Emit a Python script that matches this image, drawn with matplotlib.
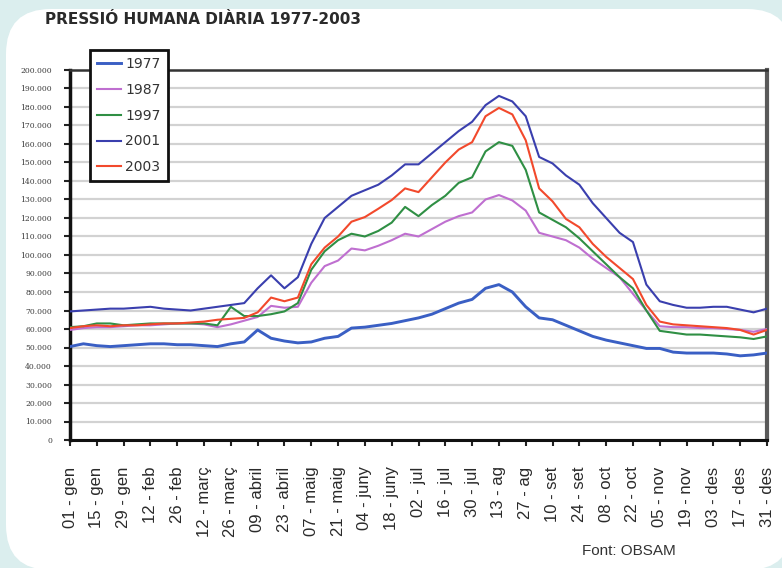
import numpy as np
import matplotlib
matplotlib.use("Agg")
import matplotlib.pyplot as plt
from matplotlib.patches import FancyBboxPatch
from matplotlib.ticker import FuncFormatter, MultipleLocator

# ---------------- data ----------------
# sample day (day of year, 0 = 01 gen) - weekly samples
days = list(range(0, 365, 7))

tick_labels = ["01 - gen", "15 - gen", "29 - gen", "12 - feb", "26 - feb",
               "12 - març", "26 - març", "09 - abril", "23 - abril", "07 - maig",
               "21 - maig", "04 - juny", "18 - juny", "02 - jul", "16 - jul",
               "30 - jul", "13 - ag", "27 - ag", "10 - set", "24 - set",
               "08 - oct", "22 - oct", "05 - nov", "19 - nov", "03 - des",
               "17 - des", "31 - des"]
tick_days = list(range(0, 365, 14))

# daily human pressure (thousands of people)
p1977 = [50.5, 52, 51, 50.5, 51, 51.5, 52, 52, 51.5, 51.5, 51, 50.5, 52, 53,
         59.5, 55, 53.5, 52.5, 53, 55, 56, 60.5, 61, 62, 63, 64.5, 66, 68,
         71, 74, 76, 82, 84, 80, 72, 66, 65, 62, 59, 56, 54, 52.5, 51, 49.5,
         49.5, 47.5, 47, 47, 47, 46.5, 45.5, 46, 47]
p1987 = [59.5, 60.5, 61, 61, 61.5, 62, 62, 62.5, 63, 63, 62.5, 61, 62.5, 64.5,
         66.5, 72.5, 71.5, 72, 85, 94, 97, 103.5, 102.5, 105, 108, 111.5, 110,
         114, 118, 121, 123, 130, 132.4, 129.5, 124, 112, 110, 108, 104, 98,
         93, 88, 79, 70, 61.5, 61, 61, 60.5, 60.5, 60, 59.5, 58.5, 60]
p1997 = [61, 61.5, 63, 63, 62, 62.5, 63, 63, 63, 63, 63, 62, 72, 67, 67, 68,
         69.5, 74, 92, 102, 108, 111.5, 110, 113, 117.5, 126, 121, 127, 132,
         139, 142, 156, 161, 159, 146, 123, 119, 115, 109, 102, 95, 88, 82, 70,
         59, 58, 57, 57, 56.5, 56, 55.5, 54.6, 56]
p2001 = [69.5, 70, 70.5, 71, 71, 71.5, 72, 71, 70.5, 70, 71, 72, 73, 74, 82,
         89, 82, 88, 106, 120, 126, 132, 135, 138, 143, 149, 149, 155, 161,
         167, 172, 181, 186, 183, 175, 153, 149.5, 143, 138, 128, 120, 112,
         107, 84, 75, 73, 71.5, 71.5, 72, 72, 70.5, 69, 71]
p2003 = [60.5, 61.5, 62, 61.5, 62, 62, 62.5, 63, 63, 63.5, 64, 65, 65.5, 66,
         69, 77, 75, 77, 95, 104, 110, 118, 120.5, 125, 129.7, 136, 134, 142,
         150, 157, 161, 175, 179.5, 176, 162, 136, 129, 119.5, 115, 106, 99,
         93, 87, 73, 64, 62.5, 62, 61.5, 61, 60.5, 59.5, 57, 59.5]

series_names = ["1977", "1987", "1997", "2001", "2003"]
series_values = [p1977, p1987, p1997, p2001, p2003]

# ---------------- style ----------------
colors = ["#3a5fc4", "#bf6fd0", "#2f8f44", "#3a3fae", "#f2492c"]
widths = [2.1, 1.5, 1.5, 1.5, 1.5]

W, H = 782, 568
fig = plt.figure(figsize=(W / 100, H / 100), dpi=100)
fig.patch.set_facecolor("#dbeeee")

# white rounded panel
panel = FancyBboxPatch((6, -2), 786, 561, boxstyle="round,pad=0,rounding_size=45",
                       transform=None, facecolor="white", edgecolor="none", zorder=-10)
fig.patches.append(panel)

ax = fig.add_axes([70 / W, (H - 440) / H, 697 / W, 370 / H])
ax.set_facecolor("white")

for name, vals, c, lw in zip(series_names, series_values, colors, widths):
    ax.plot(days, np.array(vals) * 1000, color=c, lw=lw, label=name,
            solid_joinstyle="round", zorder=3)

ax.set_xlim(0, 364)
ax.set_ylim(0, 200000)
ax.yaxis.set_major_locator(MultipleLocator(10000))
ax.yaxis.set_major_formatter(FuncFormatter(lambda v, p: f"{int(round(v)):,}".replace(",", ".")))
ax.grid(axis="y", color="#d2d2d2", lw=1.6, zorder=1)
ax.set_axisbelow(True)

ax.set_xticks(tick_days)
ax.set_xticklabels(tick_labels, rotation=90, fontsize=12, family="Liberation Sans",
                   color="#2a2a2a", va="top", ha="center")
ax.tick_params(axis="x", direction="out", length=4, width=1.5, pad=15, color="#222")
ax.tick_params(axis="y", direction="out", length=4, width=1.5, pad=9, color="#222",
               labelsize=5.5, labelcolor="#3a3a3a")
for lab in ax.get_yticklabels():
    lab.set_family("DejaVu Serif")

ax.spines["left"].set_linewidth(2.5)
ax.spines["left"].set_color("#111")
ax.spines["bottom"].set_linewidth(2.2)
ax.spines["bottom"].set_color("#111")
ax.spines["top"].set_linewidth(1.8)
ax.spines["top"].set_color("#333")
ax.spines["right"].set_linewidth(3)
ax.spines["right"].set_color("#5a5a5a")

leg = fig.legend(loc="upper left", bbox_to_anchor=(90 / W, 1 - 50 / H), borderaxespad=0,
                 fancybox=False, edgecolor="#111", framealpha=1,
                 prop={"family": "DejaVu Sans", "size": 10}, handlelength=1.7,
                 handletextpad=0.35, labelspacing=0.85, borderpad=0.5)
leg.get_frame().set_linewidth(2)
for t in leg.get_texts():
    t.set_color("#333")

fig.text(45 / W, 1 - 20 / H, "PRESSIÓ HUMANA DIÀRIA 1977-2003", fontsize=11,
         fontweight="bold", family="DejaVu Sans", color="#2a2a2a", ha="left", va="center")
fig.text(629 / W, 1 - 551 / H, "Font: OBSAM", fontsize=11, family="Liberation Sans",
         color="#333", ha="center", va="center")

fig.savefig("out.png", dpi=100, facecolor=fig.get_facecolor())
